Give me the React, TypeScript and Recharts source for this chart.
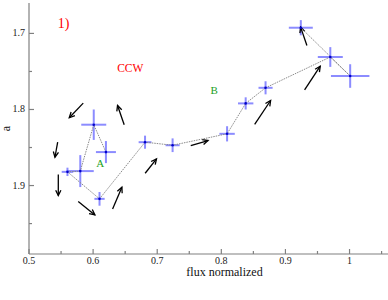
import { ComposedChart, Scatter, XAxis, YAxis, ErrorBar, ReferenceLine, ReferenceDot } from "recharts";

// measurements, in the order they are joined by the dotted track
const fluxX = [0.62, 0.601, 0.58, 0.56, 0.61, 0.681, 0.724, 0.809, 0.838, 0.869, 0.97, 1.001, 0.924];
const aY = [1.856, 1.82, 1.881, 1.882, 1.9175, 1.843, 1.847, 1.832, 1.792, 1.7715, 1.731, 1.756, 1.6925];
const fluxErr = [0.0156, 0.0195, 0.021, 0.009, 0.008, 0.01, 0.011, 0.012, 0.012, 0.011, 0.0195, 0.03, 0.0187];
const aErr = [0.0145, 0.02, 0.021, 0.0055, 0.009, 0.0086, 0.009, 0.01, 0.008, 0.0086, 0.013, 0.0155, 0.01];

// direction arrows, tail -> head
const arrowTailX = [0.5846, 0.6485, 0.5447, 0.5457, 0.5768, 0.6304, 0.6812, 0.7523, 0.852, 0.9299, 0.9335];
const arrowTailY = [1.7917, 1.8201, 1.843, 1.8855, 1.9211, 1.9307, 1.8838, 1.8474, 1.8197, 1.7741, 1.7158];
const arrowHeadX = [0.5628, 0.6381, 0.5405, 0.5457, 0.6028, 0.6449, 0.6989, 0.7793, 0.8769, 0.9543, 0.9237];
const arrowHeadY = [1.8109, 1.7947, 1.8628, 1.9132, 1.9386, 1.9022, 1.8649, 1.8408, 1.7882, 1.743, 1.6917];

// text notes
const noteText = ["1)", "CCW", "A", "B"];
const noteX = [0.554, 0.658, 0.611, 0.789];
const noteY = [1.687, 1.746, 1.871, 1.7746];

const xTicks = [0.5, 0.55, 0.6, 0.65, 0.7, 0.75, 0.8, 0.85, 0.9, 0.95, 1.0, 1.05];
const xLabels = ["0.5", "0.6", "0.7", "0.8", "0.9", "1"];
const yTicks = [1.7, 1.75, 1.8, 1.85, 1.9, 1.95];
const yLabels = ["1.7", "1.8", "1.9"];

const FONT = "Liberation Serif, Times New Roman, serif";
const AXIS = "#808080";
const noteColor = ["#ff0000", "#ff0000", "#22a022", "#22a022"];
const noteSize = [14, 11.5, 11, 11];

const points = fluxX.map((x, i) => ({ x, y: aY[i], ex: fluxErr[i], ey: aErr[i] }));

const fmt = (v: number) => String(Number(v.toFixed(2)));

function BottomTick(props: any) {
  const { x, y, payload } = props;
  const label = fmt(payload.value);
  const major = xLabels.includes(label);
  return (
    <g>
      <line x1={x} y1={y} x2={x} y2={y - (major ? 5 : 3)} stroke={AXIS} strokeWidth={1.2} />
      {major && (
        <text x={x} y={y + 9.5} textAnchor="middle" fontSize={10} fontFamily={FONT} fill="#222">
          {label}
        </text>
      )}
    </g>
  );
}

function TopTick(props: any) {
  const { x, y, payload } = props;
  const major = xLabels.includes(fmt(payload.value));
  return <line x1={x} y1={y} x2={x} y2={y + (major ? 5 : 3)} stroke={AXIS} strokeWidth={1.2} />;
}

function LeftTick(props: any) {
  const { x, y, payload } = props;
  const label = fmt(payload.value);
  const major = yLabels.includes(label);
  return (
    <g>
      <line x1={x} y1={y} x2={x + (major ? 5 : 3)} y2={y} stroke={AXIS} strokeWidth={1.2} />
      {major && (
        <text x={x - 4} y={y + 3} textAnchor="end" fontSize={10} fontFamily={FONT} fill="#222">
          {label}
        </text>
      )}
    </g>
  );
}

function Arrow(props: any) {
  const { x1, y1, x2, y2 } = props;
  const ang = Math.atan2(y2 - y1, x2 - x1);
  const len = 6;
  const spread = 0.45;
  const ax = x2 - len * Math.cos(ang - spread);
  const ay = y2 - len * Math.sin(ang - spread);
  const bx = x2 - len * Math.cos(ang + spread);
  const by = y2 - len * Math.sin(ang + spread);
  return (
    <g stroke="#000" strokeWidth={1.3} fill="none">
      <line x1={x1} y1={y1} x2={x2} y2={y2} />
      <polyline points={`${ax},${ay} ${x2},${y2} ${bx},${by}`} />
    </g>
  );
}

function Dot(props: any) {
  const { cx, cy } = props;
  return <circle cx={cx} cy={cy} r={1.3} fill="#0000cc" />;
}

export default function App() {
  return (
    <div style={{ position: "absolute", left: 0, top: 0, background: "#fff" }}>
      <ComposedChart width={388} height={300} margin={{ top: 3, right: 0, bottom: 0, left: 0 }}>
        <XAxis
          dataKey="x"
          type="number"
          domain={[0.5, 1.06]}
          allowDataOverflow
          ticks={xTicks}
          interval={0}
          tickSize={0}
          tickMargin={0}
          height={46}
          stroke={AXIS}
          strokeWidth={1.2}
          tick={<BottomTick />}
          label={{
            content: ({ viewBox }: any) => (
              <text
                x={viewBox.x + viewBox.width / 2 + 16}
                y={viewBox.y + 22}
                textAnchor="middle"
                fontSize={12}
                fontFamily={FONT}
                fill="#111"
              >
                flux normalized
              </text>
            ),
          }}
        />
        <XAxis
          xAxisId="top"
          orientation="top"
          dataKey="x"
          type="number"
          domain={[0.5, 1.06]}
          allowDataOverflow
          ticks={xTicks}
          interval={0}
          tickSize={0}
          tickMargin={0}
          height={0}
          stroke={AXIS}
          strokeWidth={1.2}
          tick={<TopTick />}
        />
        <YAxis
          dataKey="y"
          type="number"
          domain={[1.66, 1.99]}
          reversed
          allowDataOverflow
          ticks={yTicks}
          interval={0}
          tickSize={0}
          tickMargin={0}
          width={29}
          stroke={AXIS}
          strokeWidth={1.2}
          tick={<LeftTick />}
          label={{
            content: ({ viewBox }: any) => (
              <text
                x={10}
                y={viewBox.y + viewBox.height / 2}
                transform={`rotate(-90, 10, ${viewBox.y + viewBox.height / 2})`}
                textAnchor="middle"
                fontSize={12}
                fontFamily={FONT}
                fill="#111"
              >
                a
              </text>
            ),
          }}
        />
        {noteText.map((t, i) => (
          <ReferenceDot
            key={t}
            x={noteX[i]}
            y={noteY[i]}
            r={0}
            shape={(p: any) => (
              <text
                x={p.cx}
                y={p.cy}
                textAnchor="middle"
                dy="0.35em"
                fontSize={noteSize[i]}
                fontFamily={FONT}
                fill={noteColor[i]}
              >
                {t}
              </text>
            )}
          />
        ))}
        <Scatter
          data={points}
          line={{ stroke: "#8a8a8a", strokeWidth: 1, strokeDasharray: "1.5 1" }}
          lineType="joint"
          shape={<Dot />}
          isAnimationActive={false}
        >
          <ErrorBar dataKey="ex" direction="x" width={0} stroke="#8c8cff" strokeWidth={2} isAnimationActive={false} />
          <ErrorBar dataKey="ey" direction="y" width={0} stroke="#8c8cff" strokeWidth={2} isAnimationActive={false} />
        </Scatter>
        {arrowTailX.map((tx, i) => (
          <ReferenceLine
            key={i}
            segment={[
              { x: tx, y: arrowTailY[i] },
              { x: arrowHeadX[i], y: arrowHeadY[i] },
            ]}
            shape={<Arrow />}
          />
        ))}
      </ComposedChart>
    </div>
  );
}
